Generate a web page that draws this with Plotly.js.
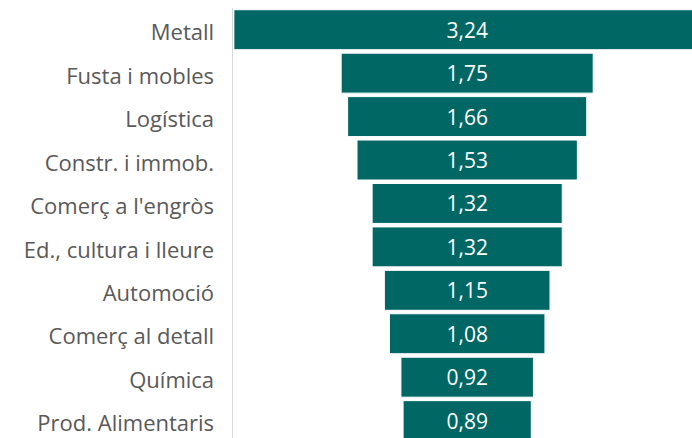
<!DOCTYPE html>
<html>
<head>
<meta charset="utf-8">
<script src="https://cdn.plot.ly/plotly-3.0.1.min.js"></script>
<style>
  html, body { margin: 0; padding: 0; background: #ffffff; overflow: hidden; }
  #chart { width: 692px; height: 438px; }
</style>
</head>
<body>
<div id="chart"></div>
<script>
// Sector names (top to bottom) and their values:
const sectors = [
    "Metall",
    "Fusta i mobles",
    "Logística",
    "Constr. i immob.",
    "Comerç a l'engròs",
    "Ed., cultura i lleure",
    "Automoció",
    "Comerç al detall",
    "Química",
    "Prod. Alimentaris"
];
const values = [3.24, 1.75, 1.66, 1.53, 1.32, 1.32, 1.15, 1.08, 0.92, 0.89];

const funnelTrace = {
    type: "funnel",
    orientation: "h",
    y: sectors,
    x: values,
    texttemplate: "%{value:.2f}",
    textposition: "inside",
    insidetextanchor: "middle",
    constraintext: "none",
    textfont: {
        family: "Open Sans, sans-serif",
        size: 21,
        color: "#ffffff"
    },
    marker: {
        color: "#006764",
        line: { color: "#ffffff", width: 1 }
    },
    connector: { visible: false },
    hoverinfo: "skip"
};

Plotly.newPlot("chart", [funnelTrace], {
    width: 692,
    height: 438,
    margin: { l: 233, r: 0, t: 8, b: 0, pad: 0 },
    separators: ",.",
    funnelgap: 0.08,
    showlegend: false,
    paper_bgcolor: "#ffffff",
    plot_bgcolor: "#ffffff",
    font: {
        family: "Open Sans, sans-serif",
        color: "#595959"
    },

    // Axis formatting:
    xaxis: {
        visible: false,
        range: [-1.626, 1.561],
        fixedrange: true
    },
    yaxis: {
        type: "category",
        range: [9.4, -0.5],
        showline: true,
        linecolor: "#d9d9d9",
        linewidth: 1.5,
        showgrid: false,
        zeroline: false,
        ticks: "",
        ticklabelstandoff: 13,
        ticklabelshift: -3,
        tickfont: { size: 22, color: "#595959" },
        fixedrange: true
    }
}, { displayModeBar: false, staticPlot: true });
</script>
</body>
</html>
